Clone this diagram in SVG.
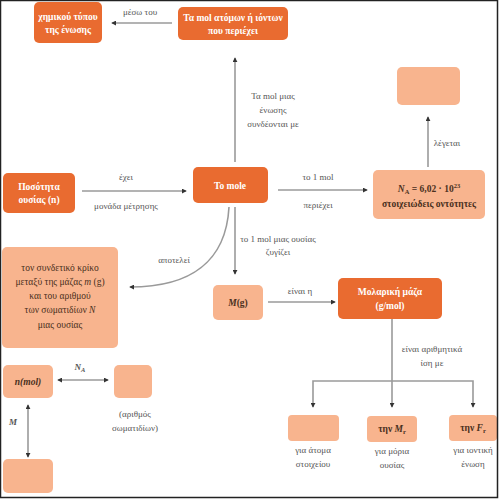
<svg xmlns="http://www.w3.org/2000/svg" width="500" height="500" viewBox="0 0 500 500">
<defs>
<style>
.dark{fill:#E96B30}
.light{fill:#F8B48E}
.wt{fill:#fff;font-family:"Liberation Serif",serif;font-size:9.5px;text-anchor:middle;font-weight:bold}
.dt{fill:#4a3020;font-family:"Liberation Serif",serif;font-size:9.5px;text-anchor:middle;font-weight:bold}
.nt{fill:#4a3020;font-family:"Liberation Serif",serif;font-size:9.5px;text-anchor:middle}
.lb{fill:#555;font-family:"Liberation Serif",serif;font-size:9px;text-anchor:middle}
.c{fill:none;stroke:#9a9a9a;stroke-width:1.6}
</style>
<marker id="ah" viewBox="0 0 6 6" refX="5" refY="3" markerWidth="5" markerHeight="5" orient="auto-start-reverse" markerUnits="userSpaceOnUse">
<path d="M0,0 L6,3 L0,6 Z" fill="#333"/>
</marker>
</defs>
<rect width="500" height="500" fill="#fff"/>
<g id="connectors">
<line class="c" x1="172" y1="23" x2="112" y2="23" marker-end="url(#ah)"/>
<line class="c" x1="235" y1="162" x2="235" y2="58" marker-end="url(#ah)"/>
<line class="c" x1="82" y1="191" x2="186" y2="191" marker-end="url(#ah)"/>
<line class="c" x1="278" y1="190" x2="367" y2="190" marker-end="url(#ah)"/>
<line class="c" x1="428" y1="167" x2="428" y2="117" marker-end="url(#ah)"/>
<path class="c" d="M229 207 C226 262 190 287 130 287" marker-end="url(#ah)"/>
<line class="c" x1="235" y1="207" x2="235" y2="274" marker-end="url(#ah)"/>
<line class="c" x1="268" y1="302" x2="335" y2="302" marker-end="url(#ah)"/>
<line class="c" x1="392" y1="319" x2="392" y2="381"/>
<path class="c" d="M313 407 V381 H473 V407" marker-end="url(#ah)" marker-start="url(#ah)"/>
<line class="c" x1="392" y1="381" x2="392" y2="407" marker-end="url(#ah)"/>
<line class="c" x1="58" y1="380" x2="108" y2="380" marker-start="url(#ah)" marker-end="url(#ah)"/>
<line class="c" x1="28" y1="405" x2="28" y2="457" marker-start="url(#ah)" marker-end="url(#ah)"/>
<text class="lb" x="140" y="15">μέσω του</text>
<text class="lb" x="273" y="99">Τα mol μιας</text>
<text class="lb" x="273" y="113">ένωσης</text>
<text class="lb" x="273" y="127">συνδέονται με</text>
<text class="lb" x="126" y="180">έχει</text>
<text class="lb" x="126" y="209">μονάδα μέτρησης</text>
<text class="lb" x="318" y="180">το 1 mol</text>
<text class="lb" x="318" y="208">περιέχει</text>
<text class="lb" x="447" y="146">λέγεται</text>
<text class="lb" x="174" y="263">αποτελεί</text>
<text class="lb" x="278" y="242">το 1 mol μιας ουσίας</text>
<text class="lb" x="278" y="255">ζυγίζει</text>
<text class="lb" x="300" y="294">είναι η</text>
<text class="lb" x="432" y="352">είναι αριθμητικά</text>
<text class="lb" x="432" y="366">ίση με</text>
<text class="lb" x="80" y="370" font-style="italic" font-weight="bold">N<tspan font-size="6.5" dy="2">A</tspan></text>
<text class="lb" x="13" y="425" font-style="italic" font-weight="bold">M</text>
</g>
<g id="n-formula"><rect class="dark" x="34" y="2" width="68" height="41" rx="5"/><text class="wt" x="68" y="20">χημικού τύπου</text><text class="wt" x="68" y="33">της ένωσης</text></g>
<g id="n-atoms"><rect class="dark" x="178" y="7" width="110" height="33" rx="5"/><text class="wt" x="233" y="21">Τα mol ατόμων ή ιόντων</text><text class="wt" x="233" y="34">που περιέχει</text></g>
<g id="n-quantity"><rect class="dark" x="3" y="173" width="72" height="40" rx="5"/><text class="wt" x="39" y="190">Ποσότητα</text><text class="wt" x="39" y="203">ουσίας (n)</text></g>
<g id="n-mole"><rect class="dark" x="193" y="167" width="75" height="36" rx="5"/><text class="wt" x="230" y="189">Το mole</text></g>
<g id="n-na"><rect class="light" x="373" y="170" width="112" height="49" rx="5"/><text class="dt" x="429" y="192"><tspan font-style="italic">N</tspan><tspan font-size="6.5" dy="2">A</tspan><tspan dy="-2"> = 6,02 · 10</tspan><tspan font-size="6.5" dy="-4">23</tspan></text><text class="dt" x="429" y="207">στοιχειώδεις οντότητες</text></g>
<g id="n-empty-top"><rect class="light" x="397" y="67" width="63" height="38" rx="5"/></g>
<g id="n-link"><rect class="light" x="2" y="247" width="116" height="101" rx="5"/><text class="nt" x="60" y="271">τον συνδετικό κρίκο</text><text class="nt" x="60" y="285">μεταξύ της μάζας <tspan font-style="italic">m</tspan> (g)</text><text class="nt" x="60" y="299">και του αριθμού</text><text class="nt" x="60" y="313">των σωματιδίων <tspan font-style="italic">N</tspan></text><text class="nt" x="60" y="328">μιας ουσίας</text></g>
<g id="n-mg"><rect class="light" x="213" y="285" width="50" height="35" rx="5"/><text class="dt" x="238" y="306"><tspan font-style="italic">M</tspan>(g)</text></g>
<g id="n-molar"><rect class="dark" x="338" y="278" width="104" height="41" rx="5"/><text class="wt" x="390" y="295">Μολαρική μάζα</text><text class="wt" x="390" y="309">(g/mol)</text></g>
<g id="n-b1"><rect class="light" x="288" y="415" width="51" height="26" rx="4"/></g>
<g id="n-b2"><rect class="light" x="367" y="416" width="50" height="26" rx="4"/><text class="dt" x="392" y="432">την <tspan font-style="italic">M</tspan><tspan font-size="6.5" dy="2">r</tspan></text></g>
<g id="n-b3"><rect class="light" x="449" y="415" width="48" height="26" rx="4"/><text class="dt" x="473" y="431">την <tspan font-style="italic">F</tspan><tspan font-size="6.5" dy="2">r</tspan></text></g>
<g id="bottom-labels"><text class="lb" x="313" y="453">για άτομα</text><text class="lb" x="313" y="467">στοιχείου</text><text class="lb" x="392" y="454">για μόρια</text><text class="lb" x="392" y="468">ουσίας</text><text class="lb" x="473" y="453">για ιοντική</text><text class="lb" x="473" y="467">ένωση</text></g>
<g id="n-nmol"><rect class="light" x="3" y="365" width="50" height="33" rx="5"/><text class="dt" x="28" y="385" font-style="italic">n(mol)</text></g>
<g id="n-particles"><rect class="light" x="114" y="365" width="38" height="33" rx="5"/><text class="lb" x="135" y="417">(αριθμός</text><text class="lb" x="135" y="431">σωματιδίων)</text></g>
<g id="n-mass"><rect class="light" x="3" y="459" width="50" height="34" rx="5"/></g>
<rect x="0.5" y="0.5" width="497" height="497" fill="none" stroke="#222" stroke-width="1.5"/>
</svg>
